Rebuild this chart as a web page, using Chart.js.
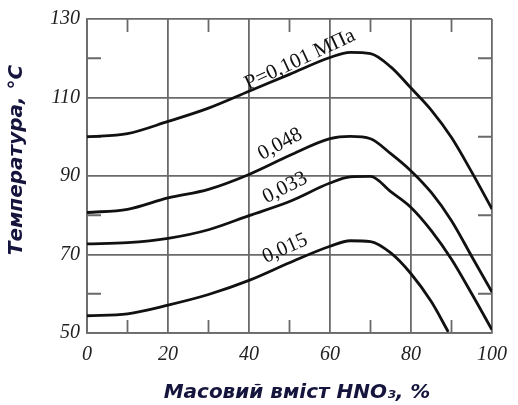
<!DOCTYPE html>
<html>
<head>
<meta charset="utf-8">
<script src="https://cdn.jsdelivr.net/npm/chart.js@4.4.0/dist/chart.umd.min.js"></script>
<style>
  html, body { margin: 0; padding: 0; background: #fff; }
</style>
</head>
<body>
<canvas id="TempChart" width="518" height="405"></canvas>
<script>
// mass fraction of HNO3, %
var massPct = [0, 10, 20, 30, 40, 50, 60, 65, 70, 75, 80, 85, 90, 95, 100];
var massPct015 = [0, 10, 20, 30, 40, 50, 60, 65, 70, 75, 80, 85, 89.2];

// boiling temperature, °C, one list per pressure
var temp0101 = [100, 100.8, 103.9, 107.3, 111.6, 115.9, 120.2, 121.5, 121.2, 117.8, 112.4, 106.8, 99.8, 91.0, 81.6];
var temp0048 = [80.7, 81.5, 84.4, 86.6, 90.4, 95.2, 99.5, 100.1, 99.5, 95.7, 91.3, 85.8, 78.6, 69.5, 60.4];
var temp0033 = [72.7, 73.0, 74.1, 76.3, 79.9, 83.5, 88.2, 89.8, 89.9, 86.0, 82.0, 76.1, 68.8, 60.0, 50.8];
var temp0015 = [54.4, 54.9, 57.1, 59.8, 63.4, 67.9, 72.1, 73.5, 73.3, 70.4, 65.1, 58.0, 50.3];

var curveLabels = ['P=0,101 МПа', '0,048', '0,033', '0,015'];

var xTicks = [0, 20, 40, 60, 80, 100];
var yTicks = [50, 70, 90, 110, 130];
var xMinor = [10, 30, 50, 70, 90];
var yMinor = [60, 80, 100, 120];

var xTitle = 'Масовий вміст HNO₃, %';
var yTitle = 'Температура, °С';

function pts(xs, ys) {
  return xs.map(function (x, i) { return {x: x, y: ys[i]}; });
}

function curve(data) {
  return {
    data: data,
    borderColor: '#111',
    borderWidth: 2.8,
    pointRadius: 0,
    fill: false,
    cubicInterpolationMode: 'monotone'
  };
}

var gridColor = '#6a6a6a';

// where the pressure labels sit (data coords) and their slope
var labelSpots = [
  {x: 52.6, y: 119.6, rot: -25},
  {x: 47.7, y: 98.1, rot: -28},
  {x: 48.9, y: 87.0, rot: -27},
  {x: 48.9, y: 71.5, rot: -24}
];

var decor = {
  id: 'decor',
  beforeDatasetsDraw: function (chart) {
    var ctx = chart.ctx, xs = chart.scales.x, ys = chart.scales.y, a = chart.chartArea;
    ctx.save();
    ctx.strokeStyle = gridColor;
    ctx.lineWidth = 1.8;
    ctx.beginPath();
    xMinor.forEach(function (v) {
      var px = xs.getPixelForValue(v);
      ctx.moveTo(px, a.top); ctx.lineTo(px, a.top + 13);
      ctx.moveTo(px, a.bottom); ctx.lineTo(px, a.bottom - 13);
    });
    yMinor.forEach(function (v) {
      var py = ys.getPixelForValue(v);
      ctx.moveTo(a.left, py); ctx.lineTo(a.left + 14, py);
      ctx.moveTo(a.right, py); ctx.lineTo(a.right - 14, py);
    });
    ctx.stroke();
    ctx.restore();
  },
  afterDatasetsDraw: function (chart) {
    var ctx = chart.ctx, xs = chart.scales.x, ys = chart.scales.y, a = chart.chartArea;
    ctx.save();
    ctx.fillStyle = '#111';
    ctx.textAlign = 'center';
    ctx.textBaseline = 'middle';
    labelSpots.forEach(function (s, i) {
      ctx.font = (i === 0 ? 21 : 21) + 'px "Liberation Serif"';
      ctx.save();
      ctx.translate(xs.getPixelForValue(s.x), ys.getPixelForValue(s.y));
      ctx.rotate(s.rot * Math.PI / 180);
      ctx.fillText(curveLabels[i], 0, 0);
      ctx.restore();
    });

    // axis titles
    ctx.fillStyle = '#14143c';
    ctx.font = 'italic bold 20px "DejaVu Sans"';
    ctx.fillText(xTitle, 297, 393);
    ctx.save();
    ctx.translate(17, 160);
    ctx.rotate(-Math.PI / 2);
    ctx.fillText(yTitle, 0, 0);
    ctx.restore();
    ctx.restore();
  }
};

var tickFont = {family: '"Liberation Serif"', size: 20, style: 'italic'};

new Chart(document.getElementById('TempChart').getContext('2d'), {
  type: 'line',
  data: {
    datasets: [
      curve(pts(massPct, temp0101)),
      curve(pts(massPct, temp0048)),
      curve(pts(massPct, temp0033)),
      curve(pts(massPct015, temp0015))
    ]
  },
  options: {
    responsive: false,
    animation: false,
    devicePixelRatio: 1,
    layout: {padding: {left: 0, right: 26, top: 17, bottom: 0}},
    plugins: {legend: {display: false}, tooltip: {enabled: false}},
    scales: {
      x: {
        type: 'linear',
        min: 0, max: 100,
        afterBuildTicks: function (s) { s.ticks = xTicks.map(function (v) { return {value: v}; }); },
        afterFit: function (s) { s.height = 72; },
        grid: {color: gridColor, lineWidth: 1.8, drawTicks: false},
        border: {color: gridColor, width: 1.8},
        ticks: {padding: 10, color: '#222', font: tickFont, maxRotation: 0}
      },
      y: {
        type: 'linear',
        min: 50, max: 130,
        afterBuildTicks: function (s) { s.ticks = yTicks.map(function (v) { return {value: v}; }); },
        afterFit: function (s) { s.width = 87; },
        grid: {color: gridColor, lineWidth: 1.8, drawTicks: false},
        border: {color: gridColor, width: 1.8},
        ticks: {padding: 7, color: '#222', font: tickFont}
      }
    }
  },
  plugins: [decor]
});
</script>
</body>
</html>
